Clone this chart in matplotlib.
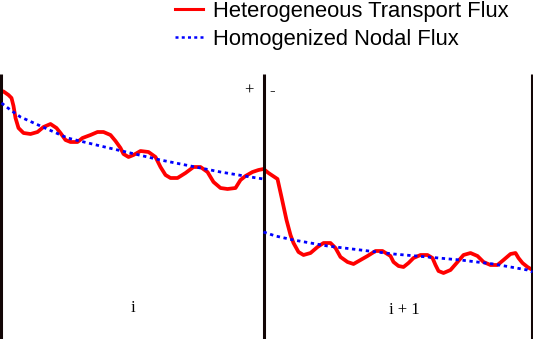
import matplotlib
matplotlib.use("Agg")
import matplotlib.pyplot as plt
from matplotlib.lines import Line2D

# positions (arbitrary length units) and flux (arbitrary units)
node_edges = [0, 263, 531.5]
node_labels = ["i", "i + 1"]
node_label_x = [132, 404]
node_label_y = [31, 29]

het_x = [1, 3, 8, 11, 13, 15, 18, 23, 30, 37, 43, 50, 56, 60, 65, 70, 77, 82, 90, 97,
         103, 110, 115, 120, 123, 128, 133, 140, 148, 155, 160, 165, 170, 177, 185, 193,
         200, 207, 213, 220, 227, 235, 240, 245, 252, 258, 263, 268, 277, 281, 286, 290,
         293, 298, 303, 310, 317, 323, 330, 335, 340, 347, 353, 360, 367, 375, 382, 390,
         393, 398, 403, 408, 413, 420, 427, 432, 435, 438, 443, 450, 457, 463, 470, 477,
         483, 490, 497, 503, 510, 515, 518, 522, 527, 532]
het_y_img = [91, 91.5, 95, 98, 106, 118, 128, 133, 134, 132, 127, 124, 128, 133, 140, 142,
             142, 138, 135, 132, 132, 135, 141, 148, 154, 157, 155, 151, 152, 157, 167, 175,
             178, 178, 173, 167, 167, 172, 182, 188, 189, 188, 180, 176, 172, 170, 169, 173,
             179, 197, 220, 235, 243, 252, 255, 253, 247, 243, 243, 248, 257, 262, 264, 260,
             256, 251, 251, 256, 262, 266, 267, 263, 258, 255, 255, 258, 265, 271, 273, 270,
             262, 255, 253, 256, 262, 265, 265, 260, 254, 253, 258, 263, 267, 270]
het_flux = [339 - v for v in het_y_img]

hom_left_x = [1, 10, 20, 40, 67, 100, 130, 160, 190, 220, 250, 263]
hom_left_y_img = [103, 110, 117, 126, 138, 146, 153, 160, 166, 172, 177, 179]
hom_right_x = [263, 275, 293, 327, 360, 393, 427, 460, 493, 527, 532]
hom_right_y_img = [232, 236, 240, 246, 250, 254, 257, 260, 264, 270, 272]
hom_left = [339 - v for v in hom_left_y_img]
hom_right = [339 - v for v in hom_right_y_img]

red = "#ff0000"
blue = "#0000ff"

fig = plt.figure(figsize=(5.33, 3.39), dpi=100)
ax = fig.add_axes([0, 0, 1, 1])
ax.set_xlim(-0.5, 532.5)
ax.set_ylim(0, 339)
ax.axis("off")

ax.vlines(node_edges, 0, 265, colors="#120606", linewidth=2.2, zorder=3)

dash = (0, (1.2, 1.3))
ax.plot(hom_left_x, hom_left, color=blue, linewidth=2.0, linestyle=dash, zorder=4)
ax.plot(hom_right_x, hom_right, color=blue, linewidth=2.0, linestyle=dash, zorder=4)
ax.plot(het_x, het_flux, color=red, linewidth=2.7, solid_capstyle="round",
        solid_joinstyle="round", zorder=2)

serif = ["Liberation Serif", "DejaVu Serif"]
ax.text(248.5, 248, "+", family=serif, fontsize=12, ha="center", va="center")
ax.text(271.5, 248, "-", family=serif, fontsize=12, ha="center", va="center")
for lx, ly, lab in zip(node_label_x, node_label_y, node_labels):
    ax.text(lx, ly, lab, family=serif, fontsize=12, ha="center", va="center")

handles = [Line2D([], [], color=red, linewidth=2.2),
           Line2D([], [], color=blue, linewidth=1.8, linestyle=dash)]
labels = ["Heterogeneous Transport Flux", "Homogenized Nodal Flux"]
fig.legend(handles, labels, loc="upper left", bbox_to_anchor=(175 / 533, 1 - 1 / 339),
           frameon=False, borderpad=0, borderaxespad=0,
           prop={"family": ["Liberation Sans", "DejaVu Sans"], "size": 15.8},
           handlelength=1.27, handletextpad=0.46, labelspacing=0.3)

fig.savefig("out.png", dpi=100)
